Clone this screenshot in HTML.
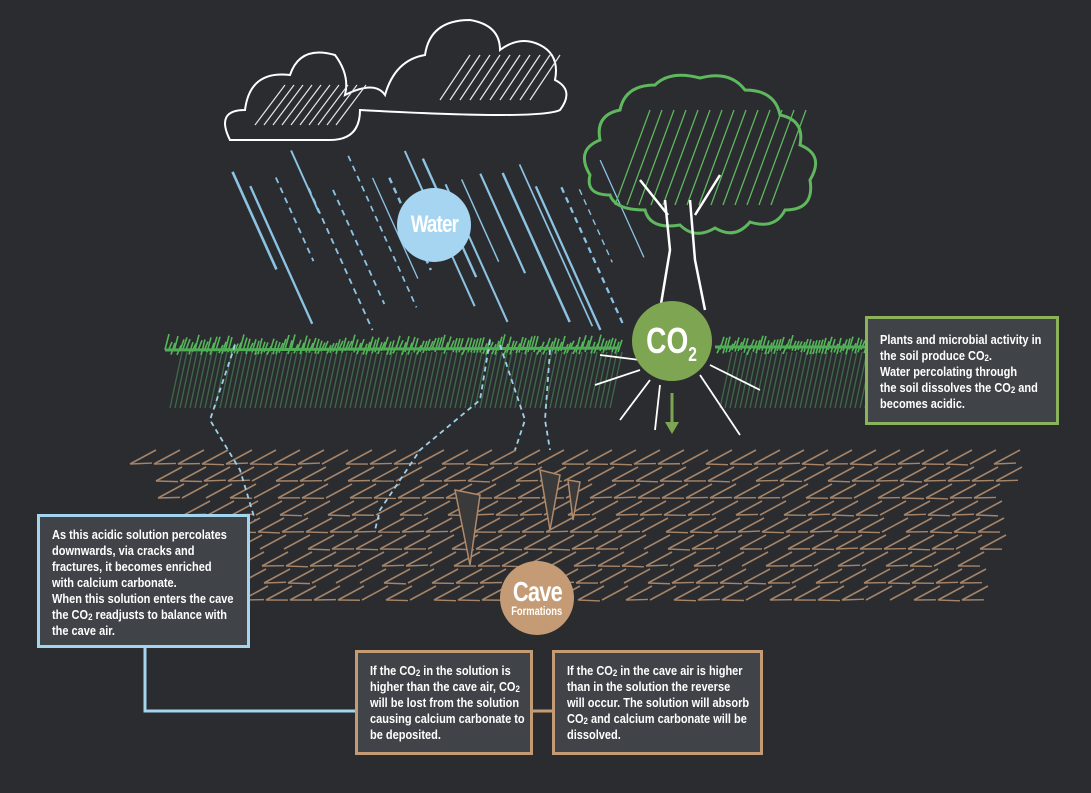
<!DOCTYPE html>
<html><head><meta charset="utf-8"><style>
html,body{margin:0;padding:0;background:#2a2c30;}
#c{position:relative;width:1091px;height:793px;overflow:hidden;background:#2a2c30;}
svg{position:absolute;left:0;top:0}
.box{position:absolute;box-sizing:border-box;background:#404448;color:#fff;font-family:"Liberation Sans",sans-serif;font-weight:bold;font-size:12.5px;line-height:16px;padding:10px 0 0 12px;overflow:hidden}
.box .t{transform:scaleX(0.88);transform-origin:0 0;}
sub{font-size:9px;vertical-align:-1px;line-height:0}
.circ{position:absolute;border-radius:50%;display:flex;align-items:center;justify-content:center;font-family:"Liberation Sans",sans-serif;font-weight:bold;flex-direction:column;color:#fff}
.n{display:inline-block;transform:scaleX(0.78)}
</style></head><body><div id="c">
<svg id="s" width="1091" height="793" viewBox="0 0 1091 793"></svg>

<div class="circ" style="left:397px;top:188px;width:74px;height:74px;background:#a5d5f1;font-size:24px;letter-spacing:-1px"><span class="n">Water</span></div>
<div class="circ" style="left:632px;top:301px;width:80px;height:80px;background:#7ea552;font-size:36px;"><span class="n" style="white-space:nowrap">CO<span style="font-size:20px;position:relative;top:8px">2</span></span></div>
<div class="circ" style="left:500px;top:561px;width:74px;height:74px;background:#c49b74;font-size:28px;line-height:26px;"><span class="n" style="letter-spacing:-1px">Cave</span><span class="n" style="font-size:12px;line-height:12px">Formations</span></div>

<div class="box" style="left:865px;top:316px;width:194px;height:109px;border:3px solid #8bb35c;padding-top:13px"><div class="t" style="width:220px">Plants and microbial activity in<br>the soil produce CO<sub>2</sub>.<br>Water percolating through<br>the soil dissolves the CO<sub>2</sub> and<br>becomes acidic.</div></div>
<div class="box" style="left:37px;top:514px;width:213px;height:134px;border:3px solid #a4d4ee"><div class="t" style="width:240px">As this acidic solution percolates<br>downwards, via cracks and<br>fractures, it becomes enriched<br>with calcium carbonate.<br>When this solution enters the cave<br>the CO<sub>2</sub> readjusts to balance with<br>the cave air.</div></div>
<div class="box" style="left:355px;top:650px;width:178px;height:105px;border:3px solid #c49b74"><div class="t" style="width:210px">If the CO<sub>2</sub> in the solution is<br>higher than the cave air, CO<sub>2</sub><br>will be lost from the solution<br>causing calcium carbonate to<br>be deposited.</div></div>
<div class="box" style="left:552px;top:650px;width:211px;height:105px;border:3px solid #c49b74"><div class="t" style="width:240px">If the CO<sub>2</sub> in the cave air is higher<br>than in the solution the reverse<br>will occur. The solution will absorb<br>CO<sub>2</sub> and calcium carbonate will be<br>dissolved.</div></div>
</div>
<script>
var s=document.getElementById('s'),h='';
function L(x1,y1,x2,y2,c,w,d){h+='<line x1="'+x1+'" y1="'+y1+'" x2="'+x2+'" y2="'+y2+'" stroke="'+c+'" stroke-width="'+w+'"'+(d?' stroke-dasharray="'+d+'"':'')+'/>';}
var r=1;function R(){r=(r*9301+49297)%233280;return r/233280;}
for(var i=0;i<20;i++){var x=230+i*19+R()*10,y=150+R()*40,len=60+R()*110;if(y+len>330)len=330-y;L(x,y,x+len*0.45,y+len,'#8cc3e3',1.2+R()*1.5,R()<.4?'6 5':'');}
for(var row=0;row<9;row++){var y0=450+row*17;for(var k=0;k<40;k++){var x=130+row*14+k*24+(row%2)*12;if(x>1000-row*4)continue;L(x,y0+14,x+26,y0,'#a58468',1.6);if(R()<.8)L(x,y0+14,x+22,y0+14+(R()*2-1),'#a58468',1.4);}}
for(var x=170;x<870;x+=5){if(x>610&&x<720)continue;L(x,408,x+12,352,'#3f6a4a',1.3);}
for(var x=165;x<870;x+=3){if(x>620&&x<715)continue;var y=345+R()*6;L(x,y+4,x+4,y-4-R()*8,'#56b65a',1.6);}
L(165,350,620,348,'#4fae55',3);L(715,347,870,347,'#4fae55',3);
h+='<path d="M235 345 L210 420 L240 470 L255 520" stroke="#9fd0ea" fill="none" stroke-width="1.8" stroke-dasharray="5 4"/>';
h+='<path d="M490 340 L480 400 L420 450 L380 510 L375 530" stroke="#9fd0ea" fill="none" stroke-width="1.8" stroke-dasharray="5 4"/>';
h+='<path d="M500 345 L525 420 L515 450" stroke="#9fd0ea" fill="none" stroke-width="1.8" stroke-dasharray="5 4"/>';
h+='<path d="M550 350 L545 420 L550 450" stroke="#9fd0ea" fill="none" stroke-width="1.8" stroke-dasharray="5 4"/>';
h+='<path d="M455 490 L470 565 L480 495 Z M540 470 L550 530 L560 475 Z M568 480 L573 520 L580 482Z" fill="#3a3a3a" stroke="#b08a6a" stroke-width="1.5"/>';
h+='<path d="M230 140 Q215 110 245 110 Q250 70 290 75 Q300 45 335 55 Q350 75 345 95 Q375 80 385 95 Q395 60 425 55 Q430 20 470 20 Q500 25 500 50 Q520 35 540 45 Q560 55 555 80 Q575 90 560 110 Q540 120 360 110 Q360 140 330 140 Z" fill="none" stroke="#fff" stroke-width="2"/>';
for(var i=0;i<10;i++){var x=255+i*9;L(x,125,x+30,85,'#e8e8e8',1.2);}
for(var i=0;i<10;i++){var x=440+i*10;L(x,100,x+30,55,'#e8e8e8',1.2);}
h+='<path d="M590 175 Q575 150 600 140 Q595 115 620 110 Q625 85 655 85 Q670 70 700 78 Q730 70 745 90 Q775 90 780 115 Q805 120 800 145 Q825 155 810 180 Q815 210 785 210 Q775 230 750 222 Q735 240 715 228 Q695 240 680 225 Q650 230 645 210 Q615 210 610 195 Q585 195 590 175Z" fill="none" stroke="#5fb75e" stroke-width="3"/>';
for(var i=0;i<14;i++){var x=615+i*12;L(x,205,x+35,110,'#5fb75e',1.3);}
h+='<path d="M665 200 L670 250 L660 310 M690 200 L695 260 L705 310 M640 180 L668 215 M720 175 L695 215" stroke="#fff" stroke-width="2.5" fill="none"/>';
h+='<path d="M640 360 L600 355 M640 370 L595 385 M650 380 L620 420 M700 375 L740 435 M710 365 L760 390 M660 385 L655 430" stroke="#fff" stroke-width="1.8" fill="none"/>';
L(672,393,672,425,'#7ea552',3);h+='<path d="M665 422 L679 422 L672 434Z" fill="#7ea552"/>';
h+='<path d="M145 647 L145 711 L356 711" stroke="#a4d4ee" stroke-width="3" fill="none"/>';
L(532,711,553,711,'#c49b74',3);
s.innerHTML=h;
</script>
</body></html>
